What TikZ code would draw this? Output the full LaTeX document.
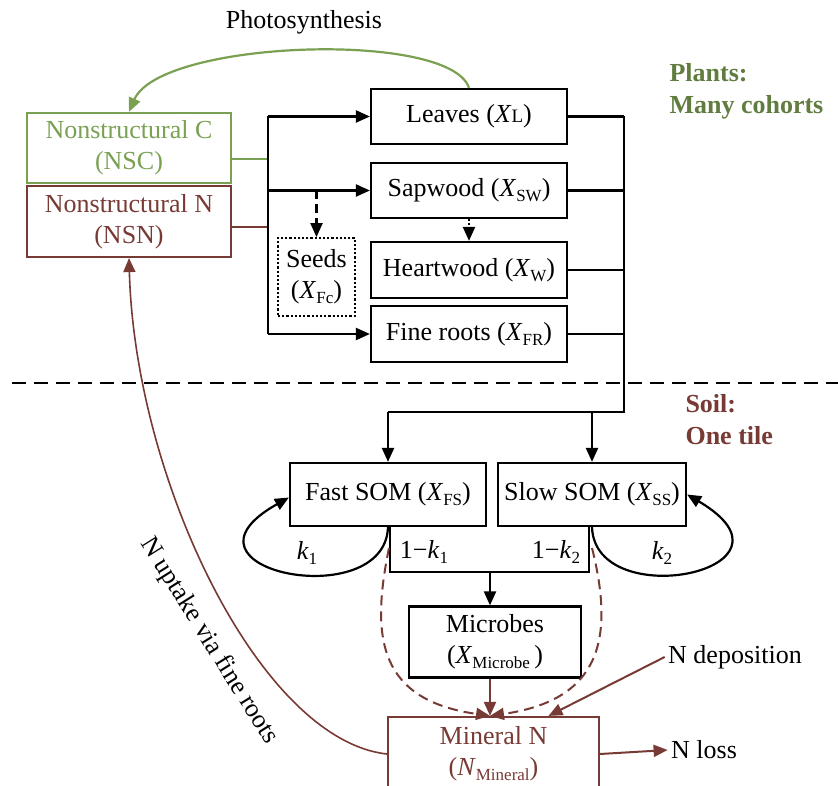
\documentclass[tikz,border=0pt]{standalone}
\usepackage{fontspec}
\setmainfont{Liberation Serif}
\usepackage{xcolor}
\usetikzlibrary{arrows.meta, positioning}

\definecolor{leafgreen}{RGB}{122,160,82}
\definecolor{labelgreen}{RGB}{96,124,62}
\definecolor{soilbrown}{RGB}{120,58,52}
\newcommand{\xsub}[2]{\textit{#1}\raisebox{-5pt}{\fontsize{17}{17}\selectfont #2}}

\begin{document}
\begin{tikzpicture}[
        x=1pt, y=-1pt,
        every node/.style={font=\fontsize{26}{31}\selectfont},
        box/.style={rectangle, draw, line width=2.2pt, minimum width=196pt, minimum height=55pt, inner sep=0pt, align=center},
        arrow/.style={-{Triangle[length=14pt,width=12pt]}, line width=2.2pt},
        link/.style={line width=2.2pt},
        longdash/.style={dash pattern=on 9pt off 5pt},
        brownarrow/.style={arrow, draw=soilbrown, line width=2pt},
        greenarrow/.style={arrow, draw=leafgreen}
    ]
        \useasboundingbox (0,0) rectangle (838,786);

        % Nodes
        \node[box, draw=leafgreen, text=leafgreen, minimum width=204pt, minimum height=70pt] (nsc) at (129,148) {Nonstructural C\\(NSC)};
        \node[box, draw=soilbrown, text=soilbrown, minimum width=204pt, minimum height=71pt] (nsn) at (129,221.5) {Nonstructural N\\(NSN)};
        \node[box] (leaves) at (469,116.5) {Leaves (\textit{X}{\fontsize{19}{20}\selectfont L})};
        \node[box] (sap) at (469,190.5) {Sapwood (\xsub{X}{SW})};
        \node[box, minimum height=56pt] (heart) at (469,270) {Heartwood (\xsub{X}{W})};
        \node[box, minimum height=56pt] (roots) at (469,334) {Fine roots (\xsub{X}{FR})};
        \node[box, dotted, line width=1.8pt, minimum width=77pt, minimum height=78pt] (seeds) at (316.5,277) {Seeds\\(\xsub{X}{Fc})};
        \node[box, minimum height=63pt] (fast) at (388,494.5) {Fast SOM (\xsub{X}{FS})};
        \node[box, minimum width=188pt, minimum height=63pt] (slow) at (592,494.5) {Slow SOM (\xsub{X}{SS})};
        \node[box, minimum width=172pt, minimum height=71pt] (micro) at (495,642) {Microbes\\(\xsub{X}{Microbe}\,)};
        \node[box, draw=soilbrown, text=soilbrown, minimum width=211pt, minimum height=74pt] (mineral) at (493.5,754) {Mineral N\\(\xsub{N}{Mineral})};

        \node (photo) at (304,22) {Photosynthesis};
        \node[anchor=west, align=left, text=labelgreen, font=\fontsize{26}{32}\bfseries] (plants) at (666,91) {Plants:\\Many cohorts};
        \node[anchor=west, align=left, text=soilbrown, font=\fontsize{26}{32}\bfseries] (soil) at (682,420) {Soil:\\One tile};
        \node (ndep) at (735,657) {N deposition};
        \node (nloss) at (704,750) {N loss};
        \node (k1) at (307,553) {\xsub{k}{1}};
        \node (k2) at (662,553) {\xsub{k}{2}};
        \node (rest1) at (424,552) {1\textminus\xsub{k}{1}};
        \node (rest2) at (556,552) {1\textminus\xsub{k}{2}};
        \node[rotate=-58] (uptake) at (209,641) {N uptake via fine roots};

        \coordinate (split) at (268,0);
        \coordinate (collect) at (624,0);
        \coordinate (turn) at (624,412);
        \coordinate (mid) at (490,572);
        \coordinate (nscout) at ([yshift=-11pt]nsc.east);
        \coordinate (nsnout) at ([yshift=-5.5pt]nsn.east);

        % Plants
        \draw[greenarrow] (leaves.north) .. controls (450,30) and (160,40) .. (nsc.north);
        \draw[link, draw=leafgreen] (nscout) -- (split |- nscout);
        \draw[link, draw=soilbrown] (nsnout) -- (split |- nsnout);
        \draw[link] (split |- leaves.west) -- (split |- roots.west);
        \draw[arrow] (split |- leaves.west) -- (leaves.west);
        \draw[arrow] (split |- sap.west) -- (sap.west);
        \draw[arrow] (split |- roots.west) -- (roots.west);
        \draw[arrow, longdash] (seeds.north |- sap.west) -- (seeds.north);
        \draw[arrow, dotted] (sap.south) -- (heart.north);

        % Litter to soil
        \draw[link] (leaves.east) -- (collect |- leaves.east);
        \draw[link] (sap.east) -- (collect |- sap.east);
        \draw[link] (heart.east) -- (collect |- heart.east);
        \draw[link] (roots.east) -- (collect |- roots.east);
        \draw[link] (collect |- leaves.east) -- (turn) -- (fast.north |- turn);
        \draw[arrow] (fast.north |- turn) -- (fast.north);
        \draw[arrow] (slow.north |- turn) -- (slow.north);
        \draw[line width=1.8pt, dash pattern=on 14pt off 8pt] (12,383) -- (838,383);

        % Soil
        \draw[arrow] (fast.south) .. controls (385,615) and (160,570) .. ([yshift=-3pt]fast.west);
        \draw[arrow] (slow.south) .. controls (595,615) and (815,570) .. (slow.east);
        \draw[link] ([xshift=2pt]fast.south) -- ([xshift=2pt]fast.south |- mid) -- ([xshift=-3pt]slow.south |- mid) -- ([xshift=-3pt]slow.south);
        \draw[arrow] (mid) -- (mid |- micro.north);
        \draw[brownarrow] (mid |- micro.south) -- (mid |- mineral.north);
        \draw[brownarrow, dash pattern=on 10pt off 6pt] (389,548) .. controls (370,640) and (380,700) .. (mid |- mineral.north);
        \draw[brownarrow, dash pattern=on 10pt off 6pt] (592,548) .. controls (615,640) and (600,700) .. (mid |- mineral.north);
        \draw[brownarrow] (ndep.west) -- ([xshift=55pt]mineral.north);
        \draw[brownarrow] (mineral.east) -- (nloss.west);
        \draw[brownarrow, line width=1.6pt] (mineral.west) .. controls (260,740) and (135,480) .. (nsn.south);
    \end{tikzpicture}
\end{document}
